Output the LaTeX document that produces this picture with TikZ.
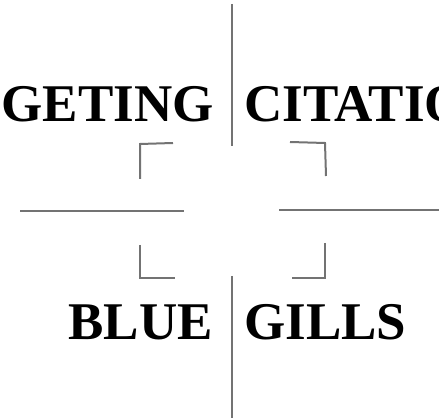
\documentclass[tikz,border=0pt]{standalone}
\usepackage{fontspec}
\setmainfont{Liberation Serif}
\begin{document}
\begin{tikzpicture}[x=1pt, y=-1pt,
  word/.style={inner sep=0pt, font=\fontsize{53}{60}\selectfont\bfseries},
  rule/.style={draw=black!55, line width=2pt},
  bracket/.style={draw=black!55, line width=2pt}
]
  \clip (0,0) rectangle (439,419);
  \useasboundingbox (0,0) rectangle (439,419);

  % --- Mots (haut) ---
  \node[word, anchor=base east] (getting)  at (214,122) {GETING};
  \node[word, anchor=base west] (citation) at (244,122) {CITATIO};

  % --- Mots (bas) ---
  \node[word, anchor=base east] (blue)  at (213,340) {BLUE};
  \node[word, anchor=base west] (gills) at (244,340) {GILLS};

  % --- Croix centrale ---
  \draw[rule] (232,4)   -- (232,146);
  \draw[rule] (232,276) -- (232,418);
  \draw[rule] (20,211)  -- (184,211);
  \draw[rule] (279,210) -- (439,210);

  % --- Coins du viseur ---
  \draw[bracket] (173,143) -- (140,144) -- (140,179);
  \draw[bracket] (290,142) -- (325,143) -- (326,176);
  \draw[bracket] (140,245) -- (140,278) -- (175,278);
  \draw[bracket] (325,243) -- (325,278) -- (292,278);
\end{tikzpicture}
\end{document}
